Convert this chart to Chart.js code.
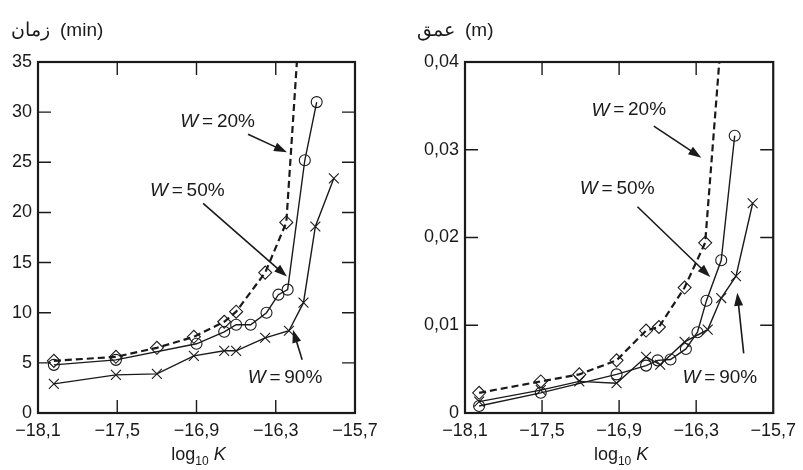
<!doctype html>
<html lang="fa">
  <head>
    <meta charset="utf-8">
    <title>log10 K</title>
    <style>
      * { margin: 0; padding: 0; }
      body { width: 803px; height: 470px; background: #fff; position: relative; overflow: hidden; }
      .box { position: absolute; top: 0; height: 470px; }
      #boxTime { left: 0; width: 400px; }
      #boxDepth { left: 400px; width: 403px; }
    </style>
  </head>
  <body>
    <div class="box" id="boxTime"><canvas id="timeChart"></canvas></div>
    <div class="box" id="boxDepth"><canvas id="depthChart"></canvas></div>
    <script src="https://cdn.jsdelivr.net/npm/chart.js/dist/chart.umd.min.js"></script>
    <script>
    // data
    const xTicks = [-18.1, -17.5, -16.9, -16.3, -15.7];
    const timeTicks = [0, 5, 10, 15, 20, 25, 30, 35];
    const depthTicks = [0, 0.01, 0.02, 0.03, 0.04];

    // time (min)
    const timeK20 = [-17.98, -17.51, -17.2, -16.92, -16.69, -16.6, -16.38, -16.22, -16.14];
    const time20 = [5.2, 5.6, 6.5, 7.6, 9.1, 10.1, 14.0, 19.0, 35];
    const timeK50 = [-17.98, -17.51, -16.9, -16.69, -16.6, -16.49, -16.37, -16.28, -16.21, -16.08, -15.99];
    const time50 = [4.8, 5.3, 6.9, 8.1, 8.8, 8.8, 10.0, 11.8, 12.3, 25.2, 31.0];
    const timeK90 = [-17.98, -17.51, -17.2, -16.92, -16.69, -16.6, -16.38, -16.2, -16.09, -16.0, -15.86];
    const time90 = [2.9, 3.8, 3.9, 5.7, 6.2, 6.2, 7.5, 8.2, 11.0, 18.6, 23.4];

    // depth (m)
    const depthK20 = [-17.99, -17.51, -17.21, -16.92, -16.69, -16.59, -16.39, -16.23, -16.12];
    const depth20 = [0.0023, 0.0036, 0.0044, 0.006, 0.0094, 0.0098, 0.0143, 0.0194, 0.04];
    const depthK50 = [-17.99, -17.51, -16.92, -16.69, -16.6, -16.5, -16.38, -16.29, -16.22, -16.105, -16.0];
    const depth50 = [0.0008, 0.0023, 0.0044, 0.0054, 0.006, 0.0061, 0.0073, 0.0092, 0.0128, 0.0174, 0.0316];
    const depthK90 = [-17.99, -17.51, -17.21, -16.92, -16.69, -16.58, -16.39, -16.21, -16.105, -15.99, -15.86];
    const depth90 = [0.0013, 0.0026, 0.0036, 0.0034, 0.0064, 0.0055, 0.0081, 0.0095, 0.0131, 0.0156, 0.0239];

    const ink = '#1a1a1a';
    const fontFamily = '"Liberation Sans", Arial, Helvetica, sans-serif';

    const pts = (xs, ys) => xs.map((x, i) => ({ x: x, y: ys[i] }));
    const fmt = (v, dec) => (v < 0 ? '\u2212' : '') + (v === 0 ? '0' : Math.abs(v).toFixed(dec).replace('.', ','));

    const markSize = { rectRot: 6.5, circle: 5.5, crossRot: 7 };

    function series(xs, ys, style, dashed, lastBare) {
      return {
        data: pts(xs, ys),
        showLine: true,
        borderColor: ink,
        borderWidth: dashed ? 2.2 : 1.4,
        borderDash: dashed ? [7, 4] : [],
        tension: 0,
        pointStyle: style,
        pointRadius: xs.map((x, i) => (lastBare && i === xs.length - 1) ? 0 : markSize[style]),
        pointBorderColor: ink,
        pointBorderWidth: 1.1,
        pointBackgroundColor: 'rgba(0,0,0,0)'
      };
    }

    // frame, inward ticks, titles and the W labels with arrows
    const decorPlugin = {
      id: 'decor',
      afterDatasetsDraw(chart, args, o) {
        const ctx = chart.ctx;
        const a = chart.chartArea;
        const sx = chart.scales.x, sy = chart.scales.y;
        ctx.save();
        ctx.strokeStyle = ink;
        ctx.fillStyle = ink;
        ctx.setLineDash([]);
        ctx.lineWidth = 1.4;
        const tl = 13;
        xTicks.slice(1, -1).forEach(v => {
          const px = sx.getPixelForValue(v);
          ctx.beginPath();
          ctx.moveTo(px, a.bottom); ctx.lineTo(px, a.bottom - tl);
          ctx.moveTo(px, a.top); ctx.lineTo(px, a.top + tl);
          ctx.stroke();
        });
        o.yTicks.slice(1, -1).forEach(v => {
          const py = sy.getPixelForValue(v);
          ctx.beginPath();
          ctx.moveTo(a.left, py); ctx.lineTo(a.left + tl, py);
          ctx.moveTo(a.right, py); ctx.lineTo(a.right - tl, py);
          ctx.stroke();
        });
        ctx.lineWidth = 2.2;
        ctx.strokeRect(a.left, a.top, a.right - a.left, a.bottom - a.top);

        // x title: log10 K
        const cx = (a.left + a.right) / 2 + 2;
        const by = a.bottom + 47;
        const p1 = 'log', p2 = '10', p3 = ' K';
        ctx.font = '18px ' + fontFamily;
        const w1 = ctx.measureText(p1).width;
        ctx.font = '12px ' + fontFamily;
        const w2 = ctx.measureText(p2).width;
        ctx.font = 'italic 18px ' + fontFamily;
        const w3 = ctx.measureText(p3).width;
        let x0 = cx - (w1 + w2 + w3) / 2;
        ctx.textBaseline = 'alphabetic';
        ctx.textAlign = 'left';
        ctx.font = '18px ' + fontFamily;
        ctx.fillText(p1, x0, by);
        ctx.font = '12px ' + fontFamily;
        ctx.fillText(p2, x0 + w1, by + 5);
        ctx.font = 'italic 18px ' + fontFamily;
        ctx.fillText(p3, x0 + w1 + w2, by);

        // y title at the top
        ctx.font = '19px ' + fontFamily;
        ctx.direction = 'rtl';
        ctx.textAlign = 'right';
        ctx.fillText(o.titleFa, o.titleX, 36);
        ctx.direction = 'ltr';
        ctx.textAlign = 'left';
        ctx.fillText(o.titleUnit, o.titleX + 10, 36);

        // W labels
        o.notes.forEach(n => {
          const tx = sx.getPixelForValue(n.tx), ty = sy.getPixelForValue(n.ty);
          ctx.font = 'italic 19px ' + fontFamily;
          const wa = ctx.measureText('W').width;
          ctx.font = '19px ' + fontFamily;
          const rest = '\u2009=\u2009' + n.label;
          const wb = ctx.measureText(rest).width;
          const lx = tx - (wa + wb) / 2;
          ctx.textBaseline = 'middle';
          ctx.font = 'italic 19px ' + fontFamily;
          ctx.fillText('W', lx, ty);
          ctx.font = '19px ' + fontFamily;
          ctx.fillText(rest, lx + wa, ty);

          const x1 = sx.getPixelForValue(n.from[0]), y1 = sy.getPixelForValue(n.from[1]);
          const x2 = sx.getPixelForValue(n.to[0]), y2 = sy.getPixelForValue(n.to[1]);
          const ang = Math.atan2(y2 - y1, x2 - x1);
          const hl = 13, hw = 4.5;
          ctx.lineWidth = 1.6;
          ctx.beginPath();
          ctx.moveTo(x1, y1);
          ctx.lineTo(x2 - Math.cos(ang) * hl * 0.8, y2 - Math.sin(ang) * hl * 0.8);
          ctx.stroke();
          ctx.beginPath();
          ctx.moveTo(x2, y2);
          ctx.lineTo(x2 - Math.cos(ang) * hl - Math.sin(ang) * hw, y2 - Math.sin(ang) * hl + Math.cos(ang) * hw);
          ctx.lineTo(x2 - Math.cos(ang) * hl + Math.sin(ang) * hw, y2 - Math.sin(ang) * hl - Math.cos(ang) * hw);
          ctx.closePath();
          ctx.fill();
        });
        ctx.restore();
      }
    };

    function makeChart(id, sets, yMax, yTicks, yDec, yWidth, padRight, deco) {
      return new Chart(document.getElementById(id), {
        type: 'scatter',
        data: { datasets: sets },
        plugins: [decorPlugin],
        options: {
          responsive: true,
          maintainAspectRatio: false,
          animation: false,
          layout: { padding: { top: 62, right: padRight, left: 0, bottom: 0 } },
          plugins: { legend: { display: false }, tooltip: { enabled: false }, decor: deco },
          scales: {
            x: {
              type: 'linear', min: -18.1, max: -15.7,
              afterBuildTicks: s => { s.ticks = xTicks.map(v => ({ value: v })); },
              afterFit: s => { s.height = 57; },
              grid: { display: false, drawTicks: false },
              border: { display: false },
              ticks: {
                padding: 7, autoSkip: false, maxRotation: 0, color: ink,
                font: { family: fontFamily, size: 18 },
                callback: v => fmt(v, 1)
              }
            },
            y: {
              type: 'linear', min: 0, max: yMax,
              afterBuildTicks: s => { s.ticks = yTicks.map(v => ({ value: v })); },
              afterFit: s => { s.width = yWidth; },
              grid: { display: false, drawTicks: false },
              border: { display: false },
              ticks: {
                padding: 6, autoSkip: false, color: ink,
                font: { family: fontFamily, size: 18 },
                callback: v => fmt(v, yDec)
              }
            }
          }
        }
      });
    }

    makeChart('timeChart', [
      series(timeK20, time20, 'rectRot', true, true),
      series(timeK50, time50, 'circle', false, false),
      series(timeK90, time90, 'crossRot', false, false)
    ], 35, timeTicks, 0, 38, 45, {
      yTicks: timeTicks, titleFa: 'زمان', titleUnit: '(min)', titleX: 50,
      notes: [
        { label: '20%', tx: -16.74, ty: 29.0, from: [-16.51, 27.8], to: [-16.215, 26.0] },
        { label: '50%', tx: -16.97, ty: 22.2, from: [-16.85, 20.9], to: [-16.215, 13.6] },
        { label: '90%', tx: -16.23, ty: 3.5, from: [-16.10, 5.3], to: [-16.17, 8.3] }
      ]
    });

    makeChart('depthChart', [
      series(depthK20, depth20, 'rectRot', true, true),
      series(depthK50, depth50, 'circle', false, false),
      series(depthK90, depth90, 'crossRot', false, false)
    ], 0.04, depthTicks, 2, 65, 20, {
      yTicks: depthTicks, titleFa: 'عمق', titleUnit: '(m)', titleX: 55,
      notes: [
        { label: '20%', tx: -16.825, ty: 0.0345, from: [-16.63, 0.0327], to: [-16.26, 0.0291] },
        { label: '50%', tx: -16.915, ty: 0.0256, from: [-16.757, 0.0235], to: [-16.19, 0.0155] },
        { label: '90%', tx: -16.115, ty: 0.004, from: [-15.93, 0.0068], to: [-15.98, 0.0137] }
      ]
    });
    </script>
  </body>
</html>
